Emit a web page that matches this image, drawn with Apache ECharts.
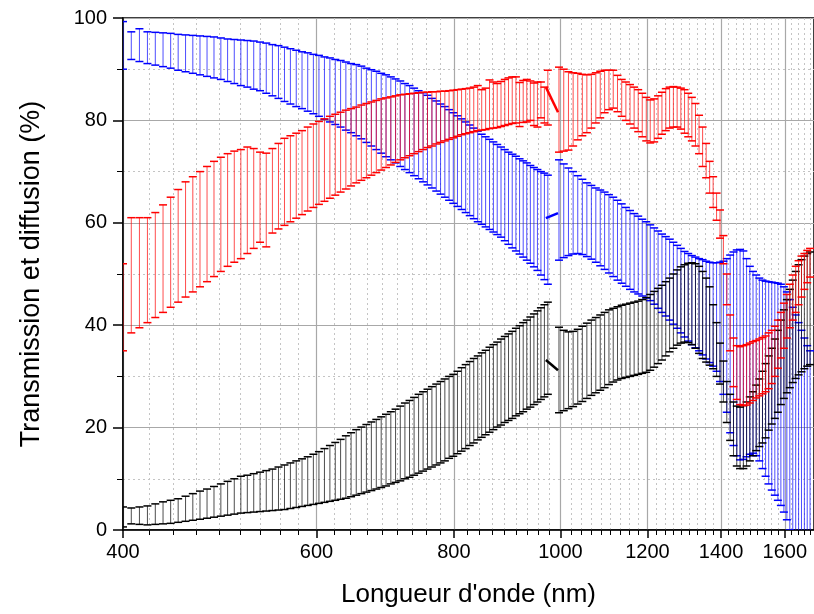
<!DOCTYPE html>
<html><head><meta charset="utf-8">
<script src="https://cdn.jsdelivr.net/npm/echarts@6/dist/echarts.min.js"></script>
<style>html,body{margin:0;padding:0;background:#fff}#c{width:814px;height:614px}</style>
</head><body><div id="c"></div>
<script>
// ---- data ----
const visWavelengths = [400,407,414,421,428,435,442,449,456,463,470,477,484,491,498,505,512,519,526,533,540,547,554,561,568,575,582,589,596,603,610,617,624,631,638,645,652,659,666,673,680,687,694,701,708,715,722,729,736,743,750,757,764,771,778,785,792,799,806,813,820,827,834,841,848,855,862,869,876,883,890,897,904,911,918,925,932,939,946,953,960,967,974];
const nirWavelengths = [997,1007,1017,1027,1037,1047,1057,1067,1077,1087,1097,1107,1117,1127,1137,1147,1157,1167,1177,1187,1197,1207,1217,1227,1237,1247,1257,1267,1277,1287,1297,1307,1317,1327,1337,1347,1357,1367,1377,1387,1397,1407,1417,1427,1437,1447,1457,1467,1477,1487,1497,1507,1517,1527,1537,1547,1557,1567,1577,1587,1597,1607,1617,1627,1637,1647,1657,1667,1677,1687];

const blueVisHigh = [99.3,97.3,97.9,97.3,97.2,97.1,97,96.8,96.7,96.6,96.5,96.4,96.3,96.1,95.9,95.8,95.7,95.6,95.5,95.3,95.1,94.8,94.6,94.3,94,93.7,93.4,93.2,92.9,92.7,92.4,92.2,91.9,91.7,91.4,91.1,90.9,90.6,90.2,89.9,89.6,89.2,88.9,88.5,88.1,87.7,87.2,86.8,86.3,85.8,85.4,84.9,84.3,83.8,83.2,82.7,82.1,81.5,80.9,80.3,79.7,79.1,78.5,77.9,77.3,76.8,76.3,75.8,75.3,74.8,74.3,73.8,73.4,73,72.5,72.1,71.7,71.2,70.8,70.4,70,69.7,69.3];
const blueVisLow = [90,91.9,91.5,91.1,90.8,90.5,90.2,89.8,89.5,89.2,88.9,88.6,88.3,88,87.6,87.2,86.8,86.5,86.1,85.8,85.3,84.8,84.3,83.7,83.2,82.7,82.3,81.8,81.3,80.8,80.2,79.7,79.2,78.7,78.1,77.6,77,76.4,75.7,75,74.3,73.6,72.9,72.3,71.7,71,70.4,69.8,69.2,68.6,68,67.4,66.8,66.2,65.6,65,64.4,63.8,63.2,62.6,62,61.4,60.8,60.2,59.7,59.2,58.7,58.2,57.7,57.2,56.5,55.8,55.1,54.5,53.9,53.3,52.7,52.1,51.4,50.7,49.8,48.9,48];
const redVisHigh = [52,61,61,61,62,63.5,65,66.5,68,69,70,71,72,72.8,73.5,74,74.3,74.8,74.5,73.8,73.6,74.5,75.5,76.5,77,77.5,78,78.7,79.3,79.8,80.3,80.8,81.2,81.6,82,82.3,82.6,83,83.3,83.6,83.9,84.2,84.4,84.6,84.8,85,85.1,85.2,85.3,85.4,85.5,85.5,85.6,85.6,85.7,85.7,85.8,85.9,86,86.1,86.2,86.3,86.5,86.8,86,86.3,87.9,87.5,87.2,87.6,88,88.3,88.5,88.5,87.4,87.8,88,87.7,87.3,87.5,87.5,86.5,89.8];
const redVisLow = [35,38.5,39.5,40.5,41.5,42.5,43.5,44.5,45.5,46.5,47.5,48.5,49.5,50.5,51.5,52.3,53,54,55,56.2,55.3,58,58.8,59.5,60.2,60.9,61.6,62.3,63,63.6,64.2,64.8,65.4,66,66.6,67.2,67.8,68.3,68.8,69.3,69.8,70.3,70.8,71.3,71.8,72.3,72.7,73.1,73.5,73.9,74.3,74.7,75,75.4,75.7,76,76.3,76.6,76.9,77.2,77.4,77.6,77.8,78,78.1,78.2,78.4,78.5,78.6,78.8,79,79.2,79.4,79.5,78.8,79.6,79.7,80,79,78.7,80.5,79.5,79.1];
const blackVisHigh = [4.5,4.3,4.5,4.7,5.1,5.5,5.8,6.1,6.6,7.1,7.6,8,8.5,9,9.5,10,10.5,10.7,11,11.3,11.6,11.9,12.3,12.7,13.1,13.5,13.9,14.3,14.8,15.3,15.9,16.5,17.1,17.7,18.4,19,19.6,20.1,20.6,21.1,21.6,22.1,22.6,23.1,23.6,24.2,24.8,25.3,25.9,26.5,27,27.5,28,28.5,29,29.5,30,30.4,31,31.7,32.3,32.9,33.5,34,34.6,35.1,35.7,36.2,36.7,37.3,37.8,38.3,38.8,39.4,39.9,40.5,41,41.6,42.2,42.8,43.4,44,44.5];
const blackVisLow = [0.6,1.2,1.1,1,1.1,1.2,1.3,1.5,1.7,1.9,2.1,2.3,2.5,2.7,2.9,3.1,3.3,3.4,3.5,3.6,3.7,3.8,3.9,4,4.2,4.4,4.6,4.8,5,5.2,5.4,5.6,5.8,6,6.2,6.5,6.8,7.1,7.4,7.7,8,8.3,8.6,9,9.3,9.6,10,10.3,10.7,11.1,11.5,11.9,12.3,12.7,13.1,13.5,14,14.4,14.9,15.4,15.9,16.5,17,17.6,18.1,18.6,19.1,19.6,20.1,20.5,21,21.4,21.8,22.3,22.7,23.1,23.6,24,24.5,25,25.5,26,26.5];

const blueNirHigh = [72.3,71.5,70.7,70,69.2,68.5,67.8,67.3,66.8,66.4,66,65.5,65,64.4,63.7,63,62.4,61.8,61.3,60.7,60.2,59.6,59,58.4,57.8,57.3,56.8,56.2,55.6,55,54.4,54,53.6,53.3,53,52.8,52.5,52.3,52.2,52.2,52.3,52.5,53,53.7,54.3,54.7,54.8,54.5,53,51.5,50.5,49.8,49.2,48.8,48.6,48.5,48.4,48.3,48.2,48,47.5,46.5,45,43.5,42,40.5,39,37.5,36,35];
const blueNirLow = [52.7,53.2,53.6,53.9,54,53.8,53.4,52.9,52.3,51.6,50.9,50.2,49.5,48.8,48.2,47.6,47,46.5,46.1,45.7,45.3,44.8,44.1,43.3,42.5,41.8,41,40.2,39.4,38.5,37.7,36.9,36.2,35.6,35,34.2,33.4,32.7,32,31,29,26.5,23,19,16.5,14.5,13.7,13.8,14.3,14.8,15,14.5,13.5,12,10.5,9,7.8,6.8,5.8,4.8,3.5,2,0,-3,-5,-7,-9,-10,-11,-12];
const redNirHigh = [90.4,90,89.5,89.3,89.2,89,88.9,89,89.3,89.6,89.8,89.8,89.8,88.8,88,87.5,87,86.5,86,85.3,84.5,84,84.2,84.8,85.5,86.2,86.5,86.6,86.5,86.3,86,85.3,84.5,83.3,81,78.7,75.5,72,69,65.8,62.5,57.5,50,42,37.5,36,35.8,36,36.2,36.5,36.8,37,37.3,37.6,37.9,38.5,39,39.8,41,42.5,44.3,46,48,49.8,51.5,52.6,53.5,54,54.6,55];
const redNirLow = [73.8,74,74.2,75,76.2,77,77.6,78.5,79.5,80.5,81.5,82.1,82.4,81.7,80.8,80,79.3,78.5,77.8,76.8,76,75.6,75.8,76.5,77.3,78,78.5,78.7,78.7,78.3,77.5,76.8,76,75,73.5,71,68.8,65.8,63,60.5,57,52,44,35,28,25.5,24.5,24.3,24.4,24.8,25.3,25.8,26.2,26.6,27,27.6,28.6,30,31.6,33.6,35.5,37.5,39.5,41,42.5,44,45.5,47,48.3,49.4];
const blackNirHigh = [39.6,39,38.7,38.8,39.2,39.8,40.4,41,41.5,42,42.5,43,43.3,43.6,43.9,44.1,44.3,44.5,44.7,45,45.4,46,46.6,47.2,47.8,48.5,49.2,50,50.8,51.4,51.8,52.1,52.2,52,51.5,50.5,49.2,47.5,44,40.5,36.5,33,29,26.5,25,24.2,24,24.3,25,26,27,28.3,29.5,31,32.5,34,35.5,37.3,39,41,43,45,47,48.8,50.5,51.8,52.8,53.5,54,54.3];
const blackNirLow = [22.9,23.3,23.7,24.1,24.6,25.1,25.7,26.3,26.8,27.3,27.8,28.4,28.9,29.3,29.6,29.8,30,30.2,30.4,30.6,30.8,31.2,31.8,32.5,33.2,34,34.8,35.5,36.1,36.5,36.7,36.6,36.2,35.5,34.5,33.5,32.8,32.2,31.5,30,28.5,25,21,17.5,14.5,12.5,12,12,12.5,13.5,14.5,15.5,16.3,17,18,19.5,20.7,21.8,23,24.5,25.7,26.8,27.8,28.8,29.6,30.3,30.9,31.5,32,32.3];

// mean line visible in the detector-change gap
const gapWavelengths = [970, 995];
const redGap = [86.5, 81.6];
const blueGap = [60.9, 61.9];
const blackGap = [33.2, 31.2];

const xMajorTicks = [400, 600, 800, 1000, 1200, 1400, 1600];
const yTicks = [0, 20, 40, 60, 80, 100];

// ---- chart ----
const FONT = 'Liberation Sans, Arial, sans-serif';
const minorX = [];
for (let i = 0; i < xMajorTicks.length; i++) {
  for (let k = 1; k <= 8; k++) minorX.push(xMajorTicks[i] + k * 200 / 9);
}

function errorBars(name, xs, lows, highs, color, z) {
  return {
    type: 'custom', name, z, clip: true,
    xAxisIndex: 0, yAxisIndex: 0,
    encode: { x: 0, y: [1, 2] },
    data: xs.map((x, i) => [x, lows[i], highs[i]]),
    renderItem(params, api) {
      const x = api.value(0);
      const lo = api.coord([x, api.value(1)]);
      const hi = api.coord([x, api.value(2)]);
      const hw = 4;
      return { type: 'group', children: [
        { type: 'line', shape: { x1: lo[0], y1: lo[1], x2: hi[0], y2: hi[1] }, style: { stroke: color, lineWidth: 1, opacity: 0.7 } },
        { type: 'line', shape: { x1: hi[0] - hw, y1: hi[1], x2: hi[0] + hw, y2: hi[1] }, style: { stroke: color, lineWidth: 1.5 } },
        { type: 'line', shape: { x1: lo[0] - hw, y1: lo[1], x2: lo[0] + hw, y2: lo[1] }, style: { stroke: color, lineWidth: 1.5 } }
      ]};
    }
  };
}
function gapLine(ys, color) {
  return { type: 'line', xAxisIndex: 0, yAxisIndex: 0, symbol: 'none', z: 20,
    data: gapWavelengths.map((x, i) => [x, ys[i]]), lineStyle: { color, width: 2.5 } };
}

const X_MAX = 1701;
const chart = echarts.init(document.getElementById('c'), null, { renderer: 'canvas' });
chart.setOption({
  animation: false,
  backgroundColor: '#fff',
  grid: { left: 123, right: -3, top: 18, bottom: 84, show: true, borderColor: '#000', borderWidth: 1.5 },
  xAxis: [{
    type: 'log', logBase: 10, min: 400, max: X_MAX,
    name: "Longueur d'onde (nm)", nameLocation: 'middle', nameGap: 52,
    nameTextStyle: { fontSize: 26, fontFamily: FONT, color: '#000' },
    axisLine: { show: true, onZero: false, lineStyle: { color: '#000', width: 1.5 } },
    axisTick: { show: true, length: 8, customValues: xMajorTicks, lineStyle: { color: '#000', width: 1.5 } },
    axisLabel: { customValues: xMajorTicks, fontSize: 20, fontFamily: FONT, color: '#000', margin: 12, formatter: v => String(Math.round(v)) },
    splitLine: { show: true, lineStyle: { color: '#a8a8a8', width: 1.2 } },
    minorTick: { show: false }, minorSplitLine: { show: false }
  }, {
    type: 'log', logBase: 10, min: 400, max: X_MAX, position: 'bottom',
    axisLine: { show: false },
    axisTick: { show: true, length: 5, customValues: minorX, lineStyle: { color: '#000', width: 1 } },
    axisLabel: { show: false },
    splitLine: { show: true, lineStyle: { color: '#c4c4c4', width: 1, type: [2, 3] } }
  }],
  yAxis: {
    type: 'value', min: 0, max: 100, interval: 20,
    name: 'Transmission et diffusion (%)', nameLocation: 'middle', nameGap: 78, nameRotate: 90,
    nameTextStyle: { fontSize: 27, fontFamily: FONT, color: '#000' },
    axisLine: { show: true, lineStyle: { color: '#000', width: 1.5 } },
    axisTick: { show: true, length: 10, lineStyle: { color: '#000', width: 1.5 } },
    minorTick: { show: true, splitNumber: 2, length: 6, lineStyle: { color: '#000', width: 1 } },
    axisLabel: { fontSize: 20, fontFamily: FONT, color: '#000', margin: 16,
      formatter: v => (yTicks.indexOf(v) >= 0 ? String(v) : '') },
    splitLine: { show: true, lineStyle: { color: '#a8a8a8', width: 1.2 } },
    minorSplitLine: { show: true, lineStyle: { color: '#c4c4c4', width: 1, type: [2, 3] } }
  },
  series: [
    errorBars('blueVis', visWavelengths, blueVisLow, blueVisHigh, '#0000ff', 2),
    errorBars('blueNir', nirWavelengths, blueNirLow, blueNirHigh, '#0000ff', 2),
    errorBars('blackVis', visWavelengths, blackVisLow, blackVisHigh, '#000000', 3),
    errorBars('blackNir', nirWavelengths, blackNirLow, blackNirHigh, '#000000', 3),
    errorBars('redVis', visWavelengths, redVisLow, redVisHigh, '#ff0000', 4),
    errorBars('redNir', nirWavelengths, redNirLow, redNirHigh, '#ff0000', 4),
    gapLine(blueGap, '#0000ff'),
    gapLine(blackGap, '#000000'),
    gapLine(redGap, '#ff0000')
  ]
});
</script></body></html>
